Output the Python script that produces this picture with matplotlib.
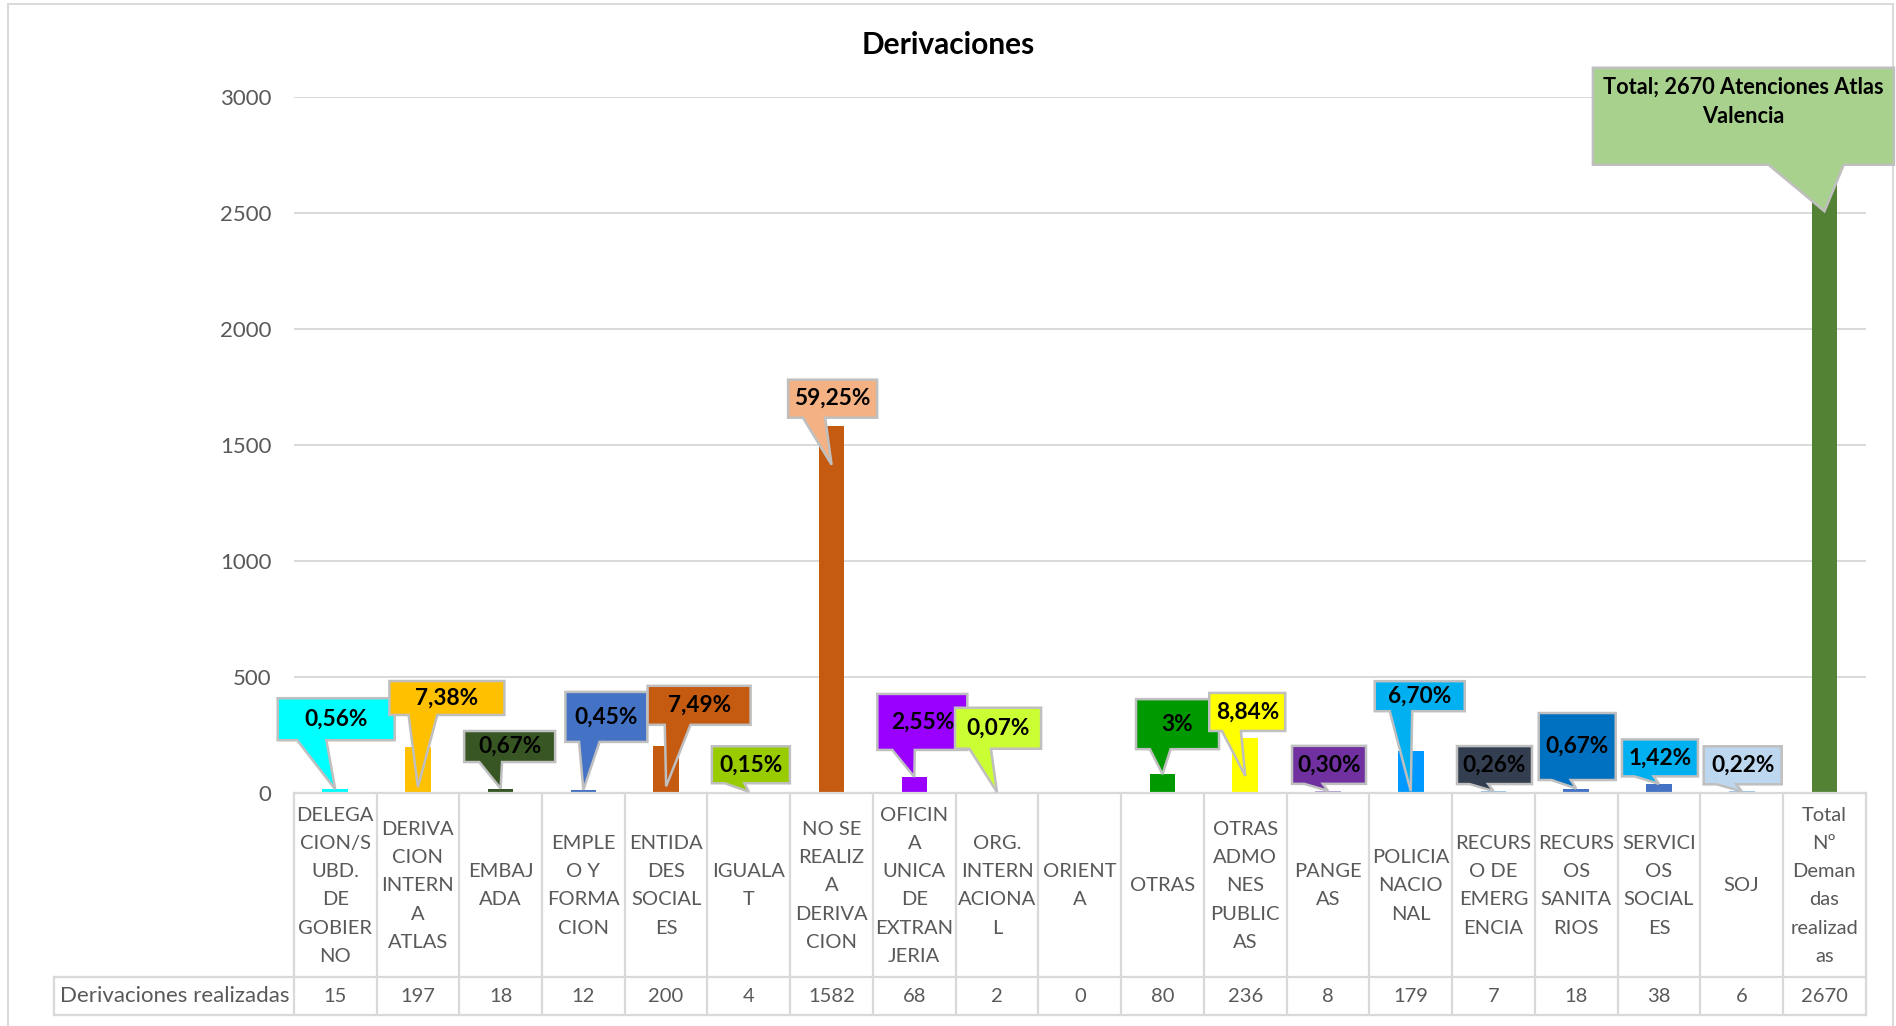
import matplotlib
matplotlib.use("Agg")
import matplotlib.pyplot as plt
from matplotlib.patches import Polygon, Rectangle
from matplotlib.lines import Line2D
from matplotlib.transforms import IdentityTransform

plt.rcParams["font.family"] = ["Lato", "DejaVu Sans"]

# ---- data ----
categories = [
    "DELEGA\nCION/S\nUBD.\nDE\nGOBIER\nNO",
    "DERIVA\nCION\nINTERN\nA\nATLAS",
    "EMBAJ\nADA",
    "EMPLE\nO Y\nFORMA\nCION",
    "ENTIDA\nDES\nSOCIAL\nES",
    "IGUALA\nT",
    "NO SE\nREALIZ\nA\nDERIVA\nCION",
    "OFICIN\nA\nUNICA\nDE\nEXTRAN\nJERIA",
    "ORG.\nINTERN\nACIONA\nL",
    "ORIENT\nA",
    "OTRAS",
    "OTRAS\nADMO\nNES\nPUBLIC\nAS",
    "PANGE\nAS",
    "POLICIA\nNACIO\nNAL",
    "RECURS\nO DE\nEMERG\nENCIA",
    "RECURS\nOS\nSANITA\nRIOS",
    "SERVICI\nOS\nSOCIAL\nES",
    "SOJ",
    "Total\nNº\nDeman\ndas\nrealizad\nas",
]
derivaciones = [15, 197, 18, 12, 200, 4, 1582, 68, 2, 0, 80, 236, 8, 179, 7, 18, 38, 6, 2670]
pct_labels = ["0,56%", "7,38%", "0,67%", "0,45%", "7,49%", "0,15%", "59,25%", "2,55%",
              "0,07%", None, "3%", "8,84%", "0,30%", "6,70%", "0,26%", "0,67%", "1,42%",
              "0,22%", "Total; 2670 Atenciones Atlas\nValencia"]
row_title = "Derivaciones realizadas"
yticks = [0, 500, 1000, 1500, 2000, 2500, 3000]

# ---- styling ----
bar_colors = ["#00FFFF", "#FFC000", "#375623", "#4472C4", "#C55A11", "#99CC00", "#C55A11",
              "#9900FF", "#CCFF33", "#FFFFFF", "#009900", "#FFFF00", "#B4A0D8", "#0099FF",
              "#9DC3E6", "#4472C4", "#4472C4", "#9DC3E6", "#548235"]
box_colors = ["#00FFFF", "#FFC000", "#375623", "#4472C4", "#C55A11", "#99CC00", "#F4B183",
              "#9900FF", "#CCFF33", None, "#009900", "#FFFF00", "#7030A0", "#00B0F0",
              "#333F50", "#0070C0", "#00B0F0", "#BDD7EE", "#A9D18E"]
# callout box: centre offset (px, image y down) from bar top, size, and tip drop into bar
box_dx = [1, 29, 9, 23, 33, 2, 1, 8, 1, 0, 15, 2, 1, 9, 1, 1, 1, 1, -81]
box_dy = [-70, -49, -42, -73, -41, -27, -27, -55, -64, 0, -50, -26, -26, -55, -26, -42, -26, -26, -57]
box_w = [117, 115, 91, 82, 103, 78, 89, 90, 86, 0, 83, 76, 74, 90, 75, 77, 76, 78, 301]
box_h = [42, 34, 31, 50, 39, 37, 38, 56, 41, 0, 50, 38, 38, 30, 38, 67, 37, 38, 97]
tip_dy = [0, 40, 0, 0, 40, 0, 39, 0, 0, 0, 0, 38, 0, 40, 0, 0, 0, 0, 38]

GRID = "#D9D9D9"
TXT = "#595959"
W, H = 1896, 1026

fig = plt.figure(figsize=(W / 100, H / 100), dpi=100)
x0, x1 = 293.8, 1865.8
y0, y1 = 792.7, 96.7
ax = fig.add_axes([x0 / W, 1 - y0 / H, (x1 - x0) / W, (y0 - y1) / H])

n = len(categories)
xs = list(range(n))
ax.bar(xs, derivaciones, width=0.31, color=bar_colors, zorder=2)
ax.set_xlim(-0.5, n - 0.5)
ax.set_ylim(0, 3000)
ax.set_yticks(yticks)
ax.set_xticks([])
ax.tick_params(axis="y", length=0, pad=16, labelsize=16, labelcolor=TXT)
ax.grid(axis="y", color=GRID, linewidth=1.4, zorder=0)
for s in ["top", "right", "left"]:
    ax.spines[s].set_visible(False)
ax.spines["bottom"].set_color(GRID)
ax.spines["bottom"].set_linewidth(1.6)

fig.text(0.5, 1 - 45 / H, "Derivaciones", ha="center", va="center",
         fontsize=21.5, fontweight="bold", color="black")

ident = IdentityTransform()


def img(x, y):
    # image-pixel coords (y down) -> display coords
    return (x, H - y)


# outer chart border
fig.patches.append(Rectangle((8.3, -10), 1893 - 8.3, H - 4.3 + 10, transform=ident,
                             fill=False, edgecolor=GRID, linewidth=1.4))

# ---- data table under the axis ----
colw = (x1 - x0) / n
row1_bot, row2_bot = 977, 1015
tab_left = 54
lines = []
for k in range(n + 1):
    xk = x0 + k * colw
    lines.append(([xk, xk], [y0, row2_bot]))
lines.append(([tab_left, x1], [row1_bot, row1_bot]))
lines.append(([tab_left, x1], [row2_bot, row2_bot]))
lines.append(([tab_left, tab_left], [row1_bot, row2_bot]))
for lx, ly in lines:
    fig.lines.append(Line2D(lx, [H - v for v in ly], transform=ident, color=GRID, linewidth=1.6))

for i, (cat, val) in enumerate(zip(categories, derivaciones)):
    cx = x0 + (i + 0.5) * colw
    fig.text(*img(cx, (y0 + row1_bot) / 2 + 1), cat, transform=ident, ha="center", va="center",
             fontsize=14.5, color=TXT, linespacing=1.8)
    fig.text(*img(cx, (row1_bot + row2_bot) / 2), str(val), transform=ident, ha="center",
             va="center", fontsize=14.5, color=TXT)
fig.text(*img(tab_left + 6, (row1_bot + row2_bot) / 2), row_title, transform=ident,
         ha="left", va="center", fontsize=16, color=TXT)

# ---- wedge callouts (Excel style) ----
for i, lab in enumerate(pct_labels):
    if lab is None:
        continue
    tx, ty = ax.transData.transform((xs[i], derivaciones[i]))
    ty = ty - tip_dy[i]
    cx, cy = tx + box_dx[i], ty + tip_dy[i] - box_dy[i]
    w, h = box_w[i], box_h[i]
    L, R, T, B = cx - w / 2, cx + w / 2, cy + h / 2, cy - h / 2
    if tx > cx:
        b0, b1 = L + w * 7 / 12, L + w * 10 / 12
    else:
        b0, b1 = L + w * 2 / 12, L + w * 5 / 12
    pts = [(L, T), (R, T), (R, B), (b1, B), (tx, ty), (b0, B), (L, B)]
    fig.patches.append(Polygon(pts, closed=True, transform=ident, facecolor=box_colors[i],
                               edgecolor="#BFBFBF", linewidth=1.8, zorder=5))
    ty_txt = T - min(h / 2, 34)
    fig.text(cx, ty_txt, lab, transform=ident, ha="center", va="center",
             fontsize=15.7 if i == n - 1 else 16.3, fontweight="bold", color="black",
             linespacing=1.45, zorder=6)

fig.savefig("out.png", dpi=100)
